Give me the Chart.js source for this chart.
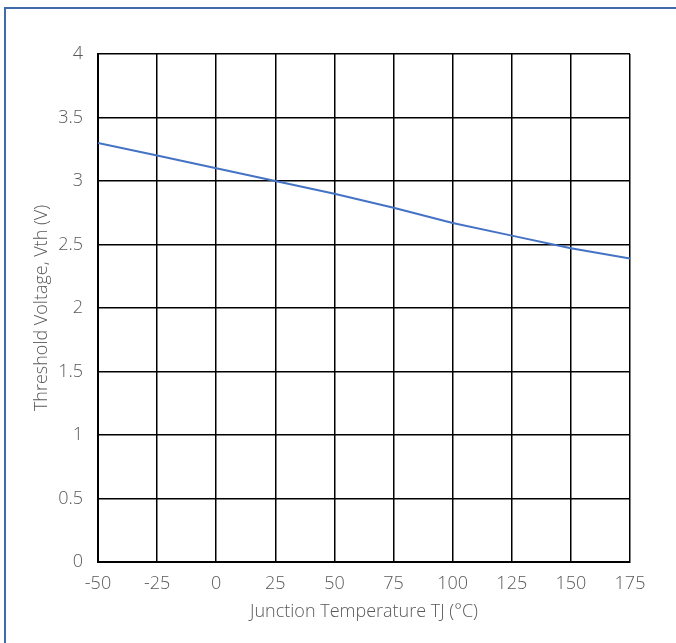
<!DOCTYPE html>
<html>
<head>
<meta charset="utf-8">
<script src="https://cdn.jsdelivr.net/npm/chart.js@4/dist/chart.umd.min.js"></script>
<style>
html,body{margin:0;padding:0;background:#fff;overflow:hidden;}
#wrap{position:relative;width:676px;height:643px;overflow:hidden;background:#fff;}
#frame{position:absolute;left:4px;top:7px;width:700px;height:700px;border:2px solid #3F6BAA;box-sizing:border-box;pointer-events:none;}
canvas{position:absolute;left:0;top:0;}
</style>
</head>
<body>
<div id="wrap">
<canvas id="c" width="676" height="643"></canvas>
<div id="frame"></div>
</div>
<script>
const temperatures = [-50, -25, 0, 25, 50, 75, 100, 125, 150, 175];
const thresholdVoltage = [3.30, 3.20, 3.10, 3.00, 2.90, 2.79, 2.67, 2.57, 2.47, 2.39];
const xTickLabels = ['-50', '-25', '0', '25', '50', '75', '100', '125', '150', '175'];
const yTickLabels = ['0', '0.5', '1', '1.5', '2', '2.5', '3', '3.5', '4'];
const xTitle = 'Junction Temperature TJ (°C)';
const yTitle = 'Threshold Voltage, Vth (V)';

const FONT = '"Open Sans", "Noto Sans", sans-serif';
const textColor = '#595959';

new Chart(document.getElementById('c'), {
  type: 'line',
  data: {
    datasets: [{
      data: temperatures.map((t, i) => ({x: t, y: thresholdVoltage[i]})),
      borderColor: '#4472C4',
      borderWidth: 2,
      pointRadius: 0,
      tension: 0,
      fill: false
    }]
  },
  options: {
    responsive: false,
    animation: false,
    layout: {padding: {left: 0, top: 54, right: 46, bottom: 0}},
    plugins: {legend: {display: false}, tooltip: {enabled: false}},
    scales: {
      x: {
        type: 'linear',
        min: -50, max: 175,
        afterBuildTicks: s => { s.ticks = temperatures.map(v => ({value: v})); },
        afterFit: s => { s.height = 81; },
        ticks: {
          padding: 11,
          color: textColor,
          font: {family: FONT, size: 18, weight: 300},
          maxRotation: 0,
          callback: (v, i) => xTickLabels[i]
        },
        grid: {color: '#000', lineWidth: 1.5, drawTicks: false},
        border: {color: '#000', width: 2},
        title: {
          display: true, text: xTitle, color: textColor,
          font: {family: FONT, size: 18, weight: 300},
          padding: {top: 0, bottom: 20}
        }
      },
      y: {
        type: 'linear',
        min: 0, max: 4,
        afterBuildTicks: s => { s.ticks = yTickLabels.map(v => ({value: parseFloat(v)})); },
        afterFit: s => { s.width = 98; },
        ticks: {
          padding: 15,
          color: textColor,
          font: {family: FONT, size: 18, weight: 300},
          callback: (v, i) => yTickLabels[i]
        },
        grid: {color: '#000', lineWidth: 1.5, drawTicks: false},
        border: {color: '#000', width: 2},
        title: {
          display: true, text: yTitle, color: textColor,
          font: {family: FONT, size: 18, weight: 300},
          padding: {top: 31, bottom: 0}
        }
      }
    }
  },
  plugins: [{
    id: 'bg',
    beforeDraw: c => { const ctx = c.ctx; ctx.save(); ctx.fillStyle = '#fff'; ctx.fillRect(0, 0, c.width, c.height); ctx.restore(); }
  }]
});
</script>
</body>
</html>
